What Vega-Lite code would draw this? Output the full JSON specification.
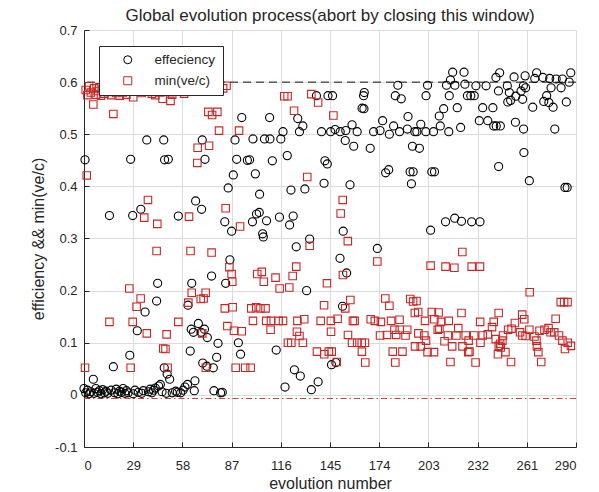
{
  "$schema": "https://vega.github.io/schema/vega-lite/v6.json",
  "width": 492,
  "height": 417,
  "autosize": {"type": "none"},
  "padding": {"left": 84, "top": 30, "right": 23, "bottom": 45},
  "background": "white",
  "title": {
    "text": "Global evolution process(abort by closing this window)",
    "font": "Liberation Sans",
    "fontSize": 17,
    "fontWeight": "normal",
    "color": "#262626",
    "anchor": "middle",
    "offset": 0,
    "dy": 1
  },
  "config": {
    "view": {"stroke": null},
    "font": "Liberation Sans",
    "axis": {
      "domainColor": "#262626",
      "domainWidth": 1,
      "tickColor": "#262626",
      "tickSize": -5,
      "gridColor": "#dcdcdc",
      "gridWidth": 1,
      "labelFont": "Liberation Sans",
      "labelFontSize": 13,
      "labelColor": "#262626",
      "titleFont": "Liberation Sans",
      "titleFontSize": 16,
      "titleFontWeight": "normal",
      "titleColor": "#262626"
    },
    "legend": {
      "orient": "none",
      "legendX": 15,
      "legendY": 16,
      "padding": 7,
      "strokeColor": "#262626",
      "fillColor": "white",
      "labelFont": "Liberation Sans",
      "labelFontSize": 13.5,
      "labelColor": "#262626",
      "symbolSize": 64,
      "symbolStrokeWidth": 1,
      "symbolOffset": 15,
      "labelOffset": 20,
      "rowPadding": 6
    }
  },
  "datasets": {
    "eff": [
      {"g":0,"v":0.012},{"g":0.6,"v":0.451},{"g":1,"v":0.004},{"g":2,"v":0.009},{"g":3,"v":0.002},{"g":4,"v":0.006},{"g":5.5,"v":0.03},{"g":6,"v":0.003},{"g":7,"v":0.012},{"g":8,"v":0.005},{"g":9,"v":0.008},{"g":10,"v":0.002},{"g":11,"v":0.01},{"g":12,"v":0.004},{"g":13,"v":0.007},{"g":14,"v":0.003},{"g":15,"v":0.344},{"g":16,"v":0.009},{"g":17.3,"v":0.054},{"g":18,"v":0.004},{"g":19,"v":0.011},{"g":20,"v":0.002},{"g":21,"v":0.007},{"g":22,"v":0.005},{"g":23,"v":0.012},{"g":24,"v":0.003},{"g":25,"v":0.008},{"g":26,"v":0.004},{"g":27,"v":0.076},{"g":27.5,"v":0.452},{"g":28.7,"v":0.344},{"g":29,"v":0.002},{"g":30,"v":0.009},{"g":31.4,"v":0.123},{"g":32,"v":0.005},{"g":33.5,"v":0.356},{"g":34,"v":0.003},{"g":35,"v":0.008},{"g":36,"v":0.159},{"g":37,"v":0.489},{"g":38,"v":0.006},{"g":39,"v":0.011},{"g":40,"v":0.004},{"g":41,"v":0.009},{"g":42,"v":0.013},{"g":42.8,"v":0.18},{"g":43.4,"v":0.214},{"g":44,"v":0.017},{"g":45,"v":0.02},{"g":46,"v":0.006},{"g":47,"v":0.489},{"g":47.3,"v":0.052},{"g":47.5,"v":0.451},
      {"g":48.5,"v":0.003},{"g":49,"v":0.04},{"g":49.7,"v":0.452},{"g":50.5,"v":0.03},{"g":52,"v":0.004},{"g":54,"v":0.007},{"g":55,"v":0.005},{"g":55.6,"v":0.343},{"g":57,"v":0.004},{"g":58.4,"v":0.009},{"g":59.5,"v":0.015},{"g":61,"v":0.02},{"g":61.3,"v":0.172},{"g":62.6,"v":0.084},{"g":63.2,"v":0.126},{"g":63.5,"v":0.214},{"g":64.5,"v":0.12},{"g":65,"v":0.008},{"g":65.4,"v":0.027},{"g":65.8,"v":0.372},{"g":67.4,"v":0.137},{"g":69,"v":0.12},{"g":69.3,"v":0.356},{"g":69.7,"v":0.489},{"g":70,"v":0.061},{"g":71,"v":0.126},{"g":71.3,"v":0.452},{"g":72.4,"v":0.055},{"g":72.7,"v":0.11},{"g":75.2,"v":0.228},{"g":76.2,"v":0.052},{"g":76.6,"v":0.008},{"g":78.2,"v":0.072},{"g":79,"v":0.099},{"g":80.5,"v":0.004},{"g":81.5,"v":0.005},{"g":83,"v":0.332},{"g":83.5,"v":0.214},{"g":85,"v":0.397},{"g":86,"v":0.259},{"g":87,"v":0.314},{"g":88,"v":0.422},{"g":89,"v":0.489},{"g":90,"v":0.452},{"g":91,"v":0.1},{"g":92.3,"v":0.078},{"g":93,"v":0.532},{"g":96.3,"v":0.45},
      {"g":97.6,"v":0.451},{"g":99.3,"v":0.332},{"g":99.6,"v":0.491},{"g":101,"v":0.424},{"g":101.7,"v":0.347},{"g":103.3,"v":0.35},{"g":103.5,"v":0.385},{"g":105.3,"v":0.309},{"g":105.7,"v":0.303},{"g":106.4,"v":0.491},{"g":107.6,"v":0.334},{"g":109.4,"v":0.532},{"g":109.6,"v":0.491},{"g":111,"v":0.449},{"g":113.3,"v":0.086},{"g":115.2,"v":0.341},{"g":116,"v":0.491},{"g":117.3,"v":0.505},{"g":118.5,"v":0.015},{"g":119.8,"v":0.459},{"g":121.2,"v":0.326},{"g":122,"v":0.393},{"g":123.3,"v":0.343},{"g":124,"v":0.048},{"g":125.1,"v":0.284},{"g":126,"v":0.53},{"g":127,"v":0.505},{"g":127.5,"v":0.036},{"g":129,"v":0.516},{"g":130.2,"v":0.395},{"g":131.2,"v":0.2},{"g":133,"v":0.299},{"g":134,"v":0.01},{"g":137,"v":0.574},{"g":138,"v":0.025},{"g":140,"v":0.505},{"g":141.5,"v":0.406},{"g":142,"v":0.449},{"g":143.4,"v":0.443},{"g":143.8,"v":0.574},{"g":145.4,"v":0.505},{"g":145.9,"v":0.058},
      {"g":146.5,"v":0.574},{"g":148,"v":0.509},{"g":148.5,"v":0.062},{"g":150.9,"v":0.262},{"g":151,"v":0.505},{"g":152.4,"v":0.17},{"g":152.8,"v":0.314},{"g":154,"v":0.488},{"g":154.3,"v":0.507},{"g":154.8,"v":0.234},{"g":156.8,"v":0.403},{"g":158,"v":0.518},{"g":159,"v":0.477},{"g":161,"v":0.505},{"g":163.9,"v":0.55},{"g":164.8,"v":0.574},{"g":165,"v":0.549},{"g":165.2,"v":0.58},{"g":168.7,"v":0.473},{"g":170.7,"v":0.505},{"g":172.9,"v":0.281},{"g":174.5,"v":0.507},{"g":176,"v":0.526},{"g":177.8,"v":0.426},{"g":179.6,"v":0.432},{"g":180,"v":0.5},{"g":182.5,"v":0.516},{"g":183.5,"v":0.574},{"g":185,"v":0.594},{"g":186,"v":0.505},{"g":187,"v":0.568},{"g":190.6,"v":0.51},{"g":191,"v":0.534},{"g":192.2,"v":0.428},{"g":193,"v":0.405},{"g":193.6,"v":0.477},{"g":194,"v":0.428},{"g":195,"v":0.505},
      {"g":196.2,"v":0.505},{"g":197.7,"v":0.473},{"g":198.5,"v":0.519},{"g":201.5,"v":0.505},{"g":201.6,"v":0.574},{"g":202.5,"v":0.594},{"g":204.3,"v":0.316},{"g":205,"v":0.428},{"g":206,"v":0.505},{"g":206.6,"v":0.428},{"g":209.4,"v":0.535},{"g":210,"v":0.516},{"g":212,"v":0.549},{"g":213.1,"v":0.332},{"g":213.7,"v":0.594},{"g":215,"v":0.505},{"g":215.3,"v":0.574},{"g":216,"v":0.604},{"g":217.3,"v":0.619},{"g":218.5,"v":0.339},{"g":218.6,"v":0.594},{"g":220,"v":0.551},{"g":222,"v":0.513},{"g":222.5,"v":0.333},{"g":224,"v":0.619},{"g":224.5,"v":0.596},{"g":226,"v":0.574},{"g":228,"v":0.574},{"g":228.5,"v":0.332},{"g":230,"v":0.574},{"g":231,"v":0.593},{"g":233,"v":0.526},{"g":233.4,"v":0.332},{"g":235,"v":0.551},{"g":237,"v":0.593},{"g":238,"v":0.526},{"g":241,"v":0.551},{"g":241.5,"v":0.516},{"g":242.8,"v":0.609},{"g":243,"v":0.516},{"g":244.3,"v":0.583},{"g":244.4,"v":0.438},
      {"g":245,"v":0.618},{"g":245.4,"v":0.516},{"g":249.5,"v":0.593},{"g":249.8,"v":0.562},{"g":250.7,"v":0.58},{"g":251.5,"v":0.565},{"g":253.5,"v":0.61},{"g":254.3,"v":0.523},{"g":254.5,"v":0.573},{"g":257.6,"v":0.583},{"g":258.5,"v":0.567},{"g":259,"v":0.593},{"g":259.1,"v":0.51},{"g":259.3,"v":0.465},{"g":260,"v":0.612},{"g":260.3,"v":0.589},{"g":262.5,"v":0.411},{"g":264.5,"v":0.552},{"g":265.7,"v":0.607},{"g":266.8,"v":0.618},{"g":270.5,"v":0.609},{"g":271,"v":0.563},{"g":272.7,"v":0.574},{"g":274,"v":0.561},{"g":274.5,"v":0.607},{"g":275.3,"v":0.589},{"g":276.5,"v":0.552},{"g":277.5,"v":0.51},{"g":278.3,"v":0.606},{"g":281.2,"v":0.589},{"g":282,"v":0.606},{"g":283.5,"v":0.398},{"g":284.3,"v":0.562},{"g":284.8,"v":0.398},{"g":286,"v":0.6},{"g":286.9,"v":0.618}
    ],
    "minv": [
      {"g":0.6,"v":0.052},{"g":1,"v":0.585},{"g":1.6,"v":0.421},{"g":2,"v":0.575},{"g":3,"v":0.592},{"g":4,"v":0.58},{"g":5.5,"v":0.557},{"g":6,"v":0.588},{"g":7,"v":0.576},{"g":8,"v":0.583},{"g":9,"v":0.59},{"g":10,"v":0.574},{"g":11,"v":0.586},{"g":12,"v":0.578},{"g":13,"v":0.59},{"g":14,"v":0.581},{"g":15,"v":0.14},{"g":16,"v":0.575},{"g":17.3,"v":0.539},{"g":18,"v":0.588},{"g":19,"v":0.579},{"g":20,"v":0.586},{"g":21,"v":0.574},{"g":22,"v":0.592},{"g":23,"v":0.58},{"g":24,"v":0.585},{"g":25,"v":0.576},{"g":26,"v":0.59},{"g":26.7,"v":0.204},{"g":27.5,"v":0.052},{"g":28.7,"v":0.14},{"g":29,"v":0.571},{"g":30,"v":0.583},{"g":31,"v":0.169},{"g":32,"v":0.588},{"g":33.4,"v":0.185},{"g":34,"v":0.579},{"g":35.5,"v":0.34},{"g":36,"v":0.586},{"g":37,"v":0.118},{"g":37.7,"v":0.374},{"g":38.5,"v":0.59},{"g":40,"v":0.578},{"g":41,"v":0.585},{"g":42,"v":0.575},{"g":42.8,"v":0.276},{"g":43.2,"v":0.328},{"g":44,"v":0.59},{"g":45,"v":0.58},{"g":46.3,"v":0.568},{"g":46.7,"v":0.089},
      {"g":48,"v":0.088},{"g":48.7,"v":0.116},{"g":49.3,"v":0.052},{"g":50,"v":0.587},{"g":51,"v":0.564},{"g":52,"v":0.576},{"g":54,"v":0.59},{"g":55.6,"v":0.14},{"g":57,"v":0.582},{"g":58,"v":0.59},{"g":59,"v":0.578},{"g":61.5,"v":0.177},{"g":61.9,"v":0.342},{"g":62.8,"v":0.276},{"g":63.5,"v":0.196},{"g":65,"v":0.586},{"g":66.8,"v":0.445},{"g":67,"v":0.474},{"g":68.8,"v":0.184},{"g":69.7,"v":0.118},{"g":70.5,"v":0.185},{"g":71.7,"v":0.196},{"g":71.8,"v":0.052},{"g":73.3,"v":0.543},{"g":73.7,"v":0.478},{"g":75.2,"v":0.273},{"g":75.5,"v":0.537},{"g":76,"v":0.587},{"g":78.6,"v":0.543},{"g":79.6,"v":0.507},{"g":82,"v":0.588},{"g":83,"v":0.166},{"g":83.5,"v":0.358},{"g":84,"v":0.593},{"g":84.5,"v":0.132},{"g":85.7,"v":0.245},{"g":87,"v":0.232},{"g":87.4,"v":0.217},{"g":87.6,"v":0.168},{"g":88.4,"v":0.123},{"g":89.4,"v":0.052},{"g":91.4,"v":0.507},{"g":92,"v":0.323},{"g":93,"v":0.122},{"g":95,"v":0.052},
      {"g":98.2,"v":0.052},{"g":98.6,"v":0.166},{"g":99.6,"v":0.142},{"g":101.5,"v":0.168},{"g":102.1,"v":0.232},{"g":104,"v":0.166},{"g":104.8,"v":0.236},{"g":106,"v":0.217},{"g":107,"v":0.166},{"g":107.4,"v":0.142},{"g":110,"v":0.125},{"g":110.2,"v":0.142},{"g":112.9,"v":0.225},{"g":114.7,"v":0.142},{"g":115.3,"v":0.204},{"g":117.3,"v":0.142},{"g":118,"v":0.573},{"g":120,"v":0.573},{"g":120.2,"v":0.1},{"g":121,"v":0.206},{"g":122.2,"v":0.1},{"g":123,"v":0.228},{"g":123.8,"v":0.545},{"g":125.1,"v":0.246},{"g":125.5,"v":0.121},{"g":125.8,"v":0.142},{"g":127,"v":0.113},{"g":129,"v":0.1},{"g":129.8,"v":0.145},{"g":131.6,"v":0.418},{"g":133,"v":0.286},{"g":134,"v":0.577},{"g":137.3,"v":0.083},{"g":138,"v":0.561},{"g":139.5,"v":0.142},{"g":141.5,"v":0.172},{"g":141.6,"v":0.078},{"g":143.2,"v":0.214},{"g":144.3,"v":0.083},{"g":145.5,"v":0.142},{"g":145.6,"v":0.121},
      {"g":146,"v":0.083},{"g":147,"v":0.536},{"g":149,"v":0.063},{"g":149.5,"v":0.146},{"g":151.3,"v":0.348},{"g":152.5,"v":0.374},{"g":152.6,"v":0.23},{"g":154,"v":0.166},{"g":155.5,"v":0.295},{"g":155.6,"v":0.115},{"g":157,"v":0.182},{"g":158,"v":0.1},{"g":158.5,"v":0.142},{"g":159.5,"v":0.142},{"g":161,"v":0.1},{"g":163.7,"v":0.1},{"g":163.8,"v":0.083},{"g":165.6,"v":0.1},{"g":165.8,"v":0.062},{"g":169,"v":0.145},{"g":171.4,"v":0.142},{"g":172.9,"v":0.256},{"g":174.5,"v":0.114},{"g":175,"v":0.14},{"g":177.6,"v":0.185},{"g":178.6,"v":0.115},{"g":180,"v":0.171},{"g":181,"v":0.142},{"g":182,"v":0.083},{"g":183,"v":0.125},{"g":183.5,"v":0.062},{"g":184,"v":0.115},{"g":186,"v":0.144},{"g":186.1,"v":0.125},{"g":187.7,"v":0.083},{"g":189.5,"v":0.114},{"g":190.5,"v":0.125},{"g":192.3,"v":0.184},{"g":194,"v":0.179},{"g":195,"v":0.157},{"g":195.1,"v":0.093},
      {"g":196,"v":0.18},{"g":197,"v":0.159},{"g":197.1,"v":0.118},{"g":198.5,"v":0.093},{"g":200.6,"v":0.114},{"g":201,"v":0.142},{"g":201.6,"v":0.104},{"g":202.5,"v":0.082},{"g":204.3,"v":0.248},{"g":205,"v":0.159},{"g":206.3,"v":0.082},{"g":206.5,"v":0.145},{"g":208.5,"v":0.125},{"g":209,"v":0.158},{"g":209.5,"v":0.127},{"g":210.4,"v":0.14},{"g":212.5,"v":0.103},{"g":213.1,"v":0.246},{"g":214.5,"v":0.114},{"g":215,"v":0.142},{"g":216,"v":0.063},{"g":217,"v":0.093},{"g":218.3,"v":0.244},{"g":219.5,"v":0.114},{"g":220.6,"v":0.128},{"g":222.5,"v":0.157},{"g":223,"v":0.274},{"g":223.1,"v":0.093},{"g":225,"v":0.114},{"g":226.5,"v":0.082},{"g":226.7,"v":0.104},{"g":227.2,"v":0.083},{"g":228.5,"v":0.246},{"g":230,"v":0.114},{"g":230.8,"v":0.062},{"g":233.4,"v":0.246},{"g":233.5,"v":0.14},{"g":233.7,"v":0.1},{"g":235,"v":0.114},{"g":238,"v":0.116},{"g":240.5,"v":0.13},{"g":241.5,"v":0.14},{"g":242.7,"v":0.107},{"g":244,"v":0.078},{"g":244.4,"v":0.157},{"g":244.5,"v":0.094},
      {"g":245.3,"v":0.098},{"g":245.6,"v":0.091},{"g":246.6,"v":0.104},{"g":247,"v":0.114},{"g":248.4,"v":0.082},{"g":250,"v":0.125},{"g":251.7,"v":0.063},{"g":252,"v":0.127},{"g":254,"v":0.138},{"g":257,"v":0.12},{"g":258.3,"v":0.154},{"g":258.4,"v":0.114},{"g":259.5,"v":0.145},{"g":260.3,"v":0.113},{"g":262.5,"v":0.125},{"g":262.7,"v":0.197},{"g":265.5,"v":0.112},{"g":266.7,"v":0.104},{"g":267,"v":0.093},{"g":267.8,"v":0.082},{"g":268.5,"v":0.123},{"g":269.5,"v":0.063},{"g":271.4,"v":0.125},{"g":273.8,"v":0.128},{"g":275,"v":0.12},{"g":277.2,"v":0.12},{"g":278,"v":0.146},{"g":280,"v":0.114},{"g":281,"v":0.178},{"g":282,"v":0.104},{"g":283,"v":0.178},{"g":283.5,"v":0.088},{"g":285,"v":0.178},{"g":285.1,"v":0.1},{"g":287,"v":0.094}
    ],
    "refs": [
      {"kind": "upper", "v": 0.6},
      {"kind": "lower", "v": -0.007}
    ]
  },
  "layer": [
    {
      "data": {"name": "refs"},
      "transform": [{"filter": "datum.kind === 'upper'"}],
      "mark": {"type": "rule", "color": "#111111", "strokeWidth": 1, "strokeDash": [8, 5]},
      "encoding": {
        "y": {"field": "v", "type": "quantitative"}
      }
    },
    {
      "data": {"name": "refs"},
      "transform": [{"filter": "datum.kind === 'lower'"}],
      "mark": {"type": "rule", "color": "#c0473b", "strokeWidth": 1, "strokeDash": [6, 3, 1.5, 3]},
      "encoding": {
        "y": {"field": "v", "type": "quantitative"}
      }
    },
    {
      "data": {"name": "eff"},
      "mark": {"type": "point", "filled": false, "size": 66, "strokeWidth": 1.1, "opacity": 1},
      "encoding": {
        "x": {
          "field": "g",
          "type": "quantitative",
          "scale": {"domain": [0, 290], "nice": false, "zero": false},
          "axis": {
            "title": "evolution number",
            "values": [0, 29, 58, 87, 116, 145, 174, 203, 232, 261, 290],
            "labelPadding": 17,
            "titlePadding": 3
          }
        },
        "y": {
          "field": "v",
          "type": "quantitative",
          "scale": {"domain": [-0.1, 0.7], "nice": false, "zero": false},
          "axis": {
            "title": "efficiency && min(ve/c)",
            "values": [-0.1, 0, 0.1, 0.2, 0.3, 0.4, 0.5, 0.6, 0.7],
            "labelExpr": "replace(format(datum.value, '.1~f'), '\u2212', '-')",
            "labelPadding": 12,
            "titlePadding": 8
          }
        },
        "stroke": {
          "datum": "effeciency",
          "scale": {"domain": ["effeciency", "min(ve/c)"], "range": ["#000000", "#c92626"]},
          "legend": {"title": null}
        },
        "shape": {
          "datum": "effeciency",
          "scale": {"domain": ["effeciency", "min(ve/c)"], "range": ["circle", "square"]},
          "legend": {"title": null}
        }
      }
    },
    {
      "data": {"name": "minv"},
      "mark": {"type": "point", "filled": false, "size": 56, "strokeWidth": 1.1, "opacity": 1},
      "encoding": {
        "x": {"field": "g", "type": "quantitative"},
        "y": {"field": "v", "type": "quantitative"},
        "stroke": {"datum": "min(ve/c)"},
        "shape": {"datum": "min(ve/c)"}
      }
    }
  ]
}
